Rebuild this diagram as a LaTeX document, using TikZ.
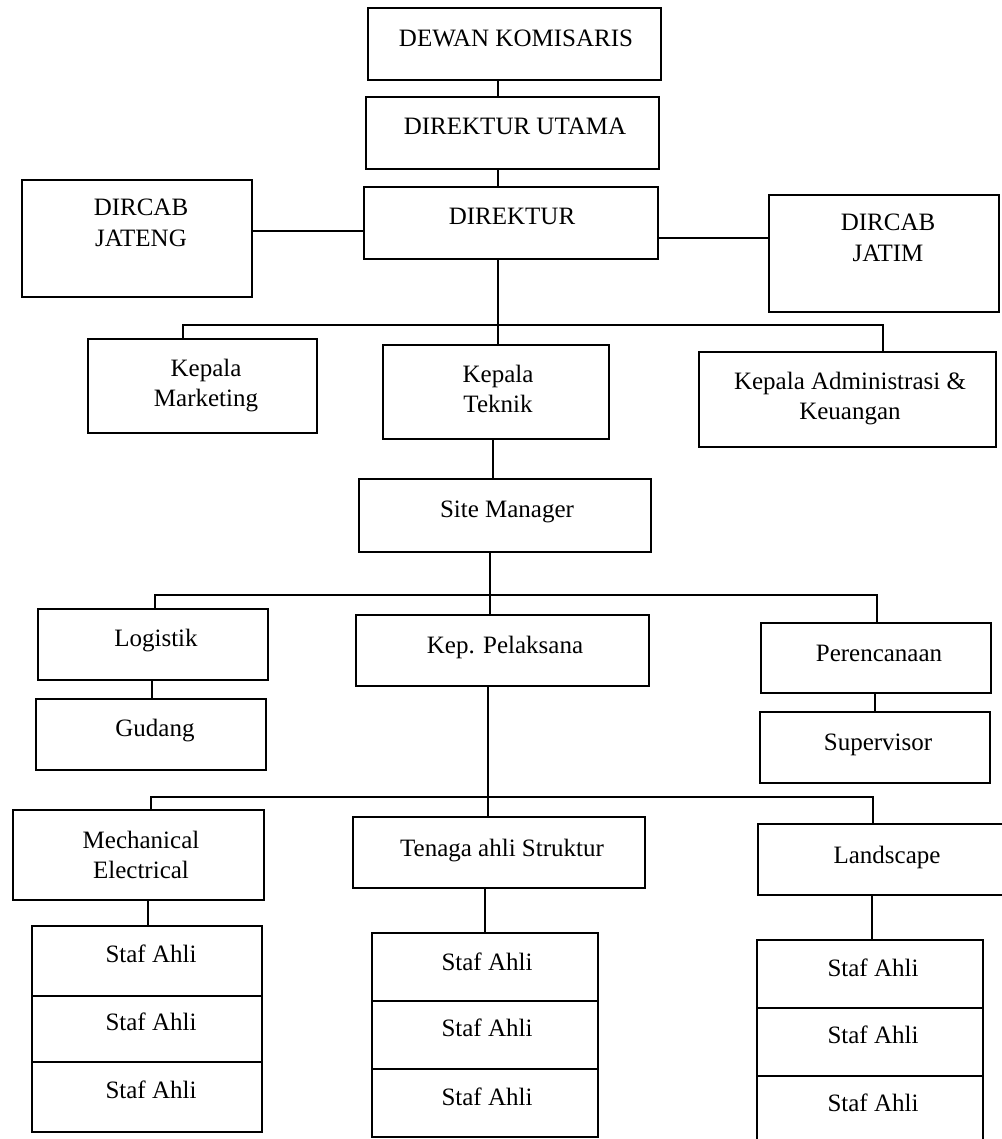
\documentclass[tikz,border=0pt]{standalone}
\usepackage{fontspec}
\setmainfont{Liberation Serif}
\begin{document}
\begin{tikzpicture}[x=0.5pt,y=-0.5pt,
  box/.style 2 args={draw,line width=1pt,inner sep=0pt,minimum width=#1,minimum height=#2},
  txt/.style={inner sep=0pt,align=center,font=\fontsize{12.5}{15}\selectfont},
  conn/.style={line width=1pt}]
\fill[white] (0,0) rectangle (1001,1139);
\useasboundingbox (0,0) rectangle (1001,1139);

% boxes
\node[box={146.5pt}{36pt}] (dk) at (514.5,44) {};
\node[box={146.5pt}{36pt}] (du) at (512.5,133) {};
\node[box={147pt}{36pt}] (dir) at (511,223) {};
\node[box={115pt}{58.5pt}] (jateng) at (137,238.5) {};
\node[box={115pt}{58.5pt}] (jatim) at (884,253.5) {};
\node[box={114.5pt}{47pt}] (mkt) at (202.5,386) {};
\node[box={113pt}{47pt}] (tek) at (496,392) {};
\node[box={148.5pt}{47.5pt}] (adm) at (847.5,399.5) {};
\node[box={146pt}{36.5pt}] (site) at (505,515.5) {};
\node[box={115pt}{35.5pt}] (log) at (153,644.5) {};
\node[box={115pt}{35.5pt}] (gud) at (151,734.5) {};
\node[box={146.5pt}{35.5pt}] (pel) at (502.5,650.5) {};
\node[box={115pt}{35pt}] (per) at (876,658) {};
\node[box={115pt}{35.5pt}] (sup) at (875,747.5) {};
\node[box={125.5pt}{45pt}] (me) at (138.5,855) {};
\node[box={146pt}{35.5pt}] (ten) at (499,852.5) {};
\node[box={124pt}{35.5pt}] (land) at (882,859.5) {};
\node[box={115pt}{35pt}] (s1a) at (147,961) {};
\node[box={115pt}{33pt}] (s1b) at (147,1029) {};
\node[box={115pt}{35pt}] (s1c) at (147,1097) {};
\node[box={113pt}{34pt}] (s2a) at (485,967) {};
\node[box={113pt}{34pt}] (s2b) at (485,1035) {};
\node[box={113pt}{34pt}] (s2c) at (485,1103) {};
\node[box={113pt}{34pt}] (s3a) at (870,974) {};
\node[box={113pt}{34pt}] (s3b) at (870,1042) {};
\node[box={113pt}{34.5pt}] (s3c) at (870,1110.5) {};

% texts
\node[txt] (dk-t) at (516,41) {DEWAN KOMISARIS\strut};
\node[txt] (du-t) at (515,129) {DIREKTUR UTAMA\strut};
\node[txt] (dir-t) at (512,219) {DIREKTUR\strut};
\node[txt] (jateng-t) at (141,225) {DIRCAB\strut\\JATENG\strut};
\node[txt] (jatim-t) at (888,240) {DIRCAB\strut\\JATIM\strut};
\node[txt] (mkt-t) at (206,385) {Kepala\strut\\Marketing\strut};
\node[txt] (tek-t) at (498,391) {Kepala\strut\\Teknik\strut};
\node[txt] (adm-t) at (850,398) {Kepala Administrasi \&\strut\\Keuangan\strut};
\node[txt] (site-t) at (507,511) {Site Manager\strut};
\node[txt] (log-t) at (156,640) {Logistik\strut};
\node[txt] (gud-t) at (155,730) {Gudang\strut};
\node[txt] (pel-t) at (505,647) {Kep. Pelaksana\strut};
\node[txt] (per-t) at (879,655) {Perencanaan\strut};
\node[txt] (sup-t) at (878,744) {Supervisor\strut};
\node[txt] (me-t) at (141,857) {Mechanical\strut\\Electrical\strut};
\node[txt] (ten-t) at (502,850) {Tenaga ahli Struktur\strut};
\node[txt] (land-t) at (887,857) {Landscape\strut};
\node[txt] (s1a-t) at (151,956) {Staf Ahli\strut};
\node[txt] (s1b-t) at (151,1024) {Staf Ahli\strut};
\node[txt] (s1c-t) at (151,1092) {Staf Ahli\strut};
\node[txt] (s2a-t) at (487,964) {Staf Ahli\strut};
\node[txt] (s2b-t) at (487,1030) {Staf Ahli\strut};
\node[txt] (s2c-t) at (487,1099) {Staf Ahli\strut};
\node[txt] (s3a-t) at (873,970) {Staf Ahli\strut};
\node[txt] (s3b-t) at (873,1037) {Staf Ahli\strut};
\node[txt] (s3c-t) at (873,1105) {Staf Ahli\strut};

% helper coordinates
\coordinate (hL) at (0,231);
\coordinate (hR) at (0,238);
\coordinate (xa) at (498,0);
\coordinate (xb) at (493,0);
\coordinate (xc) at (490,0);
\coordinate (xd) at (152,0);
\coordinate (xe) at (875,0);
\coordinate (xf) at (488,0);
\coordinate (xg) at (148,0);
\coordinate (xh) at (485,0);
\coordinate (xi) at (872,0);
\coordinate (b1l) at (183,325);
\coordinate (b1r) at (883,325);
\coordinate (b2l) at (155,595);
\coordinate (b2r) at (877,595);
\coordinate (b3l) at (151,797);
\coordinate (b3r) at (873,797);

% connectors
\draw[conn] (dk.south -| xa) -- (du.north -| xa);
\draw[conn] (du.south -| xa) -- (dir.north -| xa);
\draw[conn] (jateng.east |- hL) -- (dir.west |- hL);
\draw[conn] (dir.east |- hR) -- (jatim.west |- hR);
\draw[conn] (dir.south -| xa) -- (tek.north -| xa);
\draw[conn] (mkt.north -| b1l) -- (b1l) -- (b1r) -- (adm.north -| b1r);
\draw[conn] (tek.south -| xb) -- (site.north -| xb);
\draw[conn] (site.south -| xc) -- (pel.north -| xc);
\draw[conn] (log.north -| b2l) -- (b2l) -- (b2r) -- (per.north -| b2r);
\draw[conn] (log.south -| xd) -- (gud.north -| xd);
\draw[conn] (per.south -| xe) -- (sup.north -| xe);
\draw[conn] (pel.south -| xf) -- (ten.north -| xf);
\draw[conn] (me.north -| b3l) -- (b3l) -- (b3r) -- (land.north -| b3r);
\draw[conn] (me.south -| xg) -- (s1a.north -| xg);
\draw[conn] (ten.south -| xh) -- (s2a.north -| xh);
\draw[conn] (land.south -| xi) -- (s3a.north -| xi);
\end{tikzpicture}
\end{document}
